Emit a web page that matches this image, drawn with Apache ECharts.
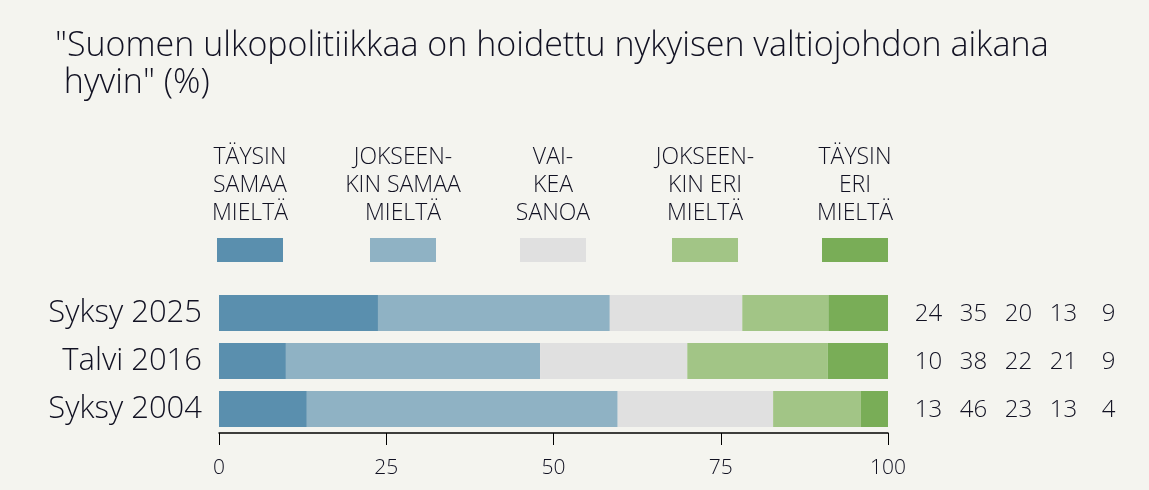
<!DOCTYPE html>
<html>
<head>
<meta charset="utf-8">
<script src="https://cdn.jsdelivr.net/npm/echarts@6/dist/echarts.min.js"></script>
<style>
html,body{margin:0;padding:0;background:#f4f4ef;}
#c{width:1149px;height:490px;}
</style>
</head>
<body>
<div id="c"></div>
<script>
const categories = ['Syksy 2025', 'Talvi 2016', 'Syksy 2004'];
const seriesNames = ['TÄYSIN\nSAMAA\nMIELTÄ', 'JOKSEEN-\nKIN SAMAA\nMIELTÄ', 'VAI-\nKEA\nSANOA', 'JOKSEEN-\nKIN ERI\nMIELTÄ', 'TÄYSIN\nERI\nMIELTÄ'];
const taysinSamaa = [24, 10, 13];
const jokseenkinSamaa = [35, 38, 46];
const vaikeaSanoa = [20, 22, 23];
const jokseenkinEri = [13, 21, 13];
const taysinEri = [9, 9, 4];
const xTicks = [0, 25, 50, 75, 100];

const colors = ['#5a8fae', '#8fb2c4', '#e0e0e0', '#a2c586', '#79ad57'];
const FONT = '"Open Sans", "Noto Sans", sans-serif';
const TXT = '#111122';

const rows = [taysinSamaa, jokseenkinSamaa, vaikeaSanoa, jokseenkinEri, taysinEri];
const totals = categories.map((_, i) => rows.reduce((s, r) => s + r[i], 0));
const pct = rows.map(r => r.map((v, i) => v / totals[i] * 100));

const chart = echarts.init(document.getElementById('c'));

const legendCenters = [250, 403, 553, 705, 855];
const graphics = [{
  type: 'text', left: 55, top: 28,
  style: { text: '"Suomen ulkopolitiikkaa on hoidettu nykyisen valtiojohdon aikana\n hyvin" (%)', font: '300 34px ' + FONT, fill: TXT, lineHeight: 37 }
}];
seriesNames.forEach((n, i) => {
  graphics.push({
    type: 'text', x: legendCenters[i], y: 143,
    style: { text: n, font: '300 23px ' + FONT, fill: TXT, align: 'center', lineHeight: 28 }
  });
  graphics.push({
    type: 'rect', shape: { x: legendCenters[i] - 33, y: 238, width: 66, height: 24 },
    style: { fill: colors[i] }
  });
});

const richCols = {};
['a','b','c','d','e'].forEach(k => richCols[k] = { width: 45, align: 'center', fontSize: 24, fontFamily: FONT, fontWeight: 300, color: TXT, padding: [3, 0, 0, 0] });

chart.setOption({
  backgroundColor: '#f4f4ef',
  animation: false,
  graphic: graphics,
  grid: { left: 219, right: 261, top: 289, height: 144 },
  xAxis: {
    type: 'value', min: 0, max: 100, interval: 25,
    axisLine: { show: true, lineStyle: { color: '#000', width: 1.5 } },
    axisTick: { show: true, length: 12, lineStyle: { color: '#000' } },
    splitLine: { show: false },
    axisLabel: { margin: 25, fontSize: 21, fontFamily: FONT, fontWeight: 300, color: TXT,
      formatter: v => xTicks.indexOf(v) >= 0 ? String(v) : '' }
  },
  yAxis: [{
    type: 'category', data: categories, inverse: true,
    axisLine: { show: false }, axisTick: { show: false },
    axisLabel: { margin: 17, fontSize: 31, fontFamily: FONT, fontWeight: 300, color: TXT }
  }, {
    type: 'category', data: categories, inverse: true, position: 'right',
    axisLine: { show: false }, axisTick: { show: false },
    axisLabel: {
      margin: 18, align: 'left',
      formatter: (v, i) => '{a|' + rows[0][i] + '}{b|' + rows[1][i] + '}{c|' + rows[2][i] + '}{d|' + rows[3][i] + '}{e|' + rows[4][i] + '}',
      rich: richCols
    }
  }],
  series: pct.map((d, i) => ({
    name: seriesNames[i], type: 'bar', stack: 'all', data: d,
    barCategoryGap: '25%', itemStyle: { color: colors[i] },
    silent: true
  }))
});
</script>
</body>
</html>
